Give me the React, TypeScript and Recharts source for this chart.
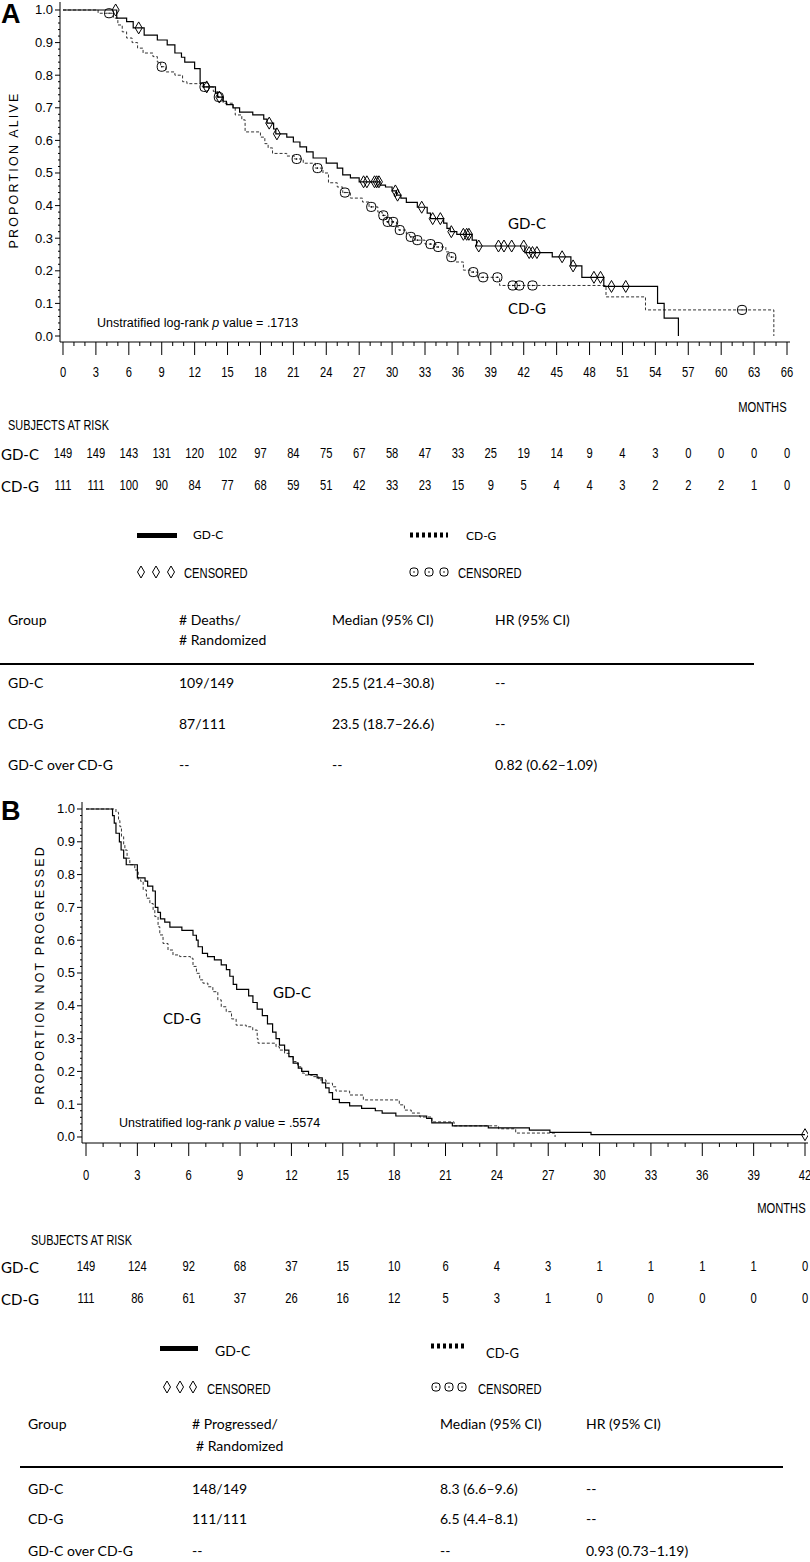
import React from 'react';
import { ComposedChart, Line, Scatter, XAxis, YAxis } from 'recharts';

// ---------- Panel A: overall survival ----------
const monthsA = [0, 3, 6, 9, 12, 15, 18, 21, 24, 27, 30, 33, 36, 39, 42, 45, 48, 51, 54, 57, 60, 63, 66];
const riskA_GDC = [149, 149, 143, 131, 120, 102, 97, 84, 75, 67, 58, 47, 33, 25, 19, 14, 9, 4, 3, 0, 0, 0, 0];
const riskA_CDG = [111, 111, 100, 90, 84, 77, 68, 59, 51, 42, 33, 23, 15, 9, 5, 4, 4, 3, 2, 2, 2, 1, 0];

const osGdc = [
  [0, 1], [4.9, 0.975], [5.8, 0.964], [6.4, 0.945], [7.4, 0.923], [8.6, 0.908], [9.5, 0.893], [10.2, 0.868],
  [10.8, 0.855], [11.1, 0.84], [12.0, 0.82], [12.5, 0.776], [12.8, 0.764], [13.9, 0.745], [14.1, 0.733],
  [14.6, 0.72], [14.9, 0.71], [15.5, 0.7], [16.1, 0.687], [17.3, 0.678], [18.3, 0.665], [18.6, 0.653],
  [19.2, 0.635], [19.4, 0.62], [20.4, 0.61], [21.0, 0.595], [21.6, 0.58], [22.2, 0.565], [22.8, 0.546],
  [24.0, 0.53], [25.0, 0.515], [25.5, 0.494], [26.2, 0.485], [27.0, 0.473], [28.9, 0.463], [29.4, 0.457],
  [30.0, 0.445], [30.4, 0.432], [30.8, 0.423], [31.3, 0.41], [32.3, 0.395], [33.2, 0.377], [33.5, 0.36],
  [34.7, 0.346], [35.0, 0.33], [35.3, 0.32], [35.9, 0.312], [37.3, 0.294], [37.7, 0.276], [42.1, 0.256],
  [44.6, 0.243], [46.3, 0.215], [47.3, 0.18], [49.3, 0.152], [54.2, 0.1], [54.8, 0.055], [56.1, 0],
];
const osCdg = [
  [0, 1], [3.2, 0.99], [4.6, 0.975], [5.0, 0.954], [5.4, 0.933], [5.8, 0.914], [6.3, 0.9], [6.8, 0.883],
  [7.3, 0.868], [8.2, 0.857], [8.6, 0.84], [8.9, 0.826], [9.4, 0.81], [10.2, 0.8], [10.9, 0.78], [11.3, 0.774],
  [12.7, 0.764], [13.7, 0.75], [14.1, 0.733], [14.6, 0.714], [15.5, 0.7], [15.7, 0.678], [16.3, 0.663],
  [16.6, 0.626], [18.0, 0.61], [18.4, 0.59], [18.7, 0.577], [19.1, 0.56], [20.4, 0.552], [21.1, 0.543],
  [21.9, 0.53], [23.0, 0.515], [23.7, 0.5], [24.2, 0.47], [25.0, 0.457], [25.5, 0.44], [26.2, 0.423],
  [27.3, 0.411], [27.9, 0.396], [28.7, 0.38], [29.1, 0.37], [29.5, 0.35], [30.4, 0.335], [30.6, 0.325],
  [31.3, 0.312], [31.6, 0.304], [32.1, 0.294], [33.0, 0.282], [34.0, 0.273], [34.9, 0.258], [35.2, 0.242],
  [35.8, 0.227], [36.5, 0.202], [37.2, 0.196], [37.8, 0.18], [39.8, 0.155], [49.5, 0.12], [53.1, 0.08], [64.8, 0],
];
const osGdcCens = [
  [4.8, 1.0], [6.9, 0.945], [13.1, 0.764], [14.25, 0.733], [18.8, 0.653], [19.5, 0.62], [27.4, 0.473],
  [27.7, 0.473], [28.4, 0.473], [28.6, 0.473], [28.8, 0.473], [30.3, 0.445], [30.5, 0.432], [32.7, 0.395],
  [33.7, 0.36], [34.4, 0.36], [35.4, 0.32], [36.5, 0.312], [36.8, 0.312], [37.0, 0.312], [37.9, 0.276],
  [39.7, 0.276], [40.2, 0.276], [40.9, 0.276], [42.0, 0.276], [42.5, 0.256], [42.8, 0.256], [43.2, 0.256],
  [45.5, 0.243], [46.5, 0.215], [48.4, 0.18], [49.0, 0.18], [50.0, 0.152], [51.3, 0.152],
];
const osCdgCens = [
  [4.2, 0.99], [9.0, 0.826], [12.9, 0.764], [14.2, 0.733], [21.3, 0.543], [23.2, 0.515], [25.7, 0.44],
  [28.1, 0.396], [29.2, 0.37], [29.6, 0.35], [30.1, 0.35], [30.7, 0.325], [31.7, 0.304], [32.3, 0.294],
  [33.5, 0.282], [34.2, 0.273], [35.4, 0.242], [37.4, 0.196], [38.3, 0.18], [39.6, 0.18], [41.0, 0.155],
  [41.6, 0.155], [42.8, 0.155], [61.9, 0.08],
];

// ---------- Panel B: progression-free survival ----------
const monthsB = [0, 3, 6, 9, 12, 15, 18, 21, 24, 27, 30, 33, 36, 39, 42];
const riskB_GDC = [149, 124, 92, 68, 37, 15, 10, 6, 4, 3, 1, 1, 1, 1, 0];
const riskB_CDG = [111, 86, 61, 37, 26, 16, 12, 5, 3, 1, 0, 0, 0, 0, 0];

const pfsGdc = [
  [0, 1], [1.55, 0.98], [1.65, 0.957], [1.75, 0.926], [1.95, 0.9], [2.05, 0.875], [2.2, 0.85], [2.35, 0.83],
  [3.0, 0.79], [3.45, 0.78], [3.6, 0.765], [3.9, 0.75], [4.05, 0.7], [4.2, 0.685], [4.35, 0.665], [4.6, 0.655],
  [4.9, 0.64], [5.6, 0.63], [6.25, 0.615], [6.45, 0.6], [6.55, 0.58], [6.8, 0.56], [7.1, 0.55], [7.5, 0.54],
  [7.9, 0.525], [8.2, 0.51], [8.4, 0.49], [8.6, 0.465], [8.8, 0.45], [9.5, 0.43], [9.75, 0.41], [10.0, 0.39],
  [10.3, 0.37], [10.6, 0.345], [10.9, 0.32], [11.1, 0.3], [11.3, 0.28], [11.6, 0.265], [11.85, 0.245],
  [12.1, 0.225], [12.4, 0.21], [12.6, 0.2], [13.0, 0.19], [13.5, 0.18], [13.8, 0.165], [14.0, 0.15],
  [14.2, 0.135], [14.4, 0.115], [14.8, 0.105], [15.4, 0.095], [16.1, 0.087], [16.9, 0.08], [17.3, 0.073],
  [18.1, 0.064], [19.9, 0.057], [20.2, 0.043], [21.4, 0.034], [23.5, 0.028], [25.9, 0.021], [27.1, 0.014],
  [29.5, 0.007], [42, 0.007],
];
const pfsCdg = [
  [0, 1], [1.75, 0.99], [1.9, 0.965], [1.98, 0.946], [2.07, 0.916], [2.2, 0.89], [2.27, 0.875], [2.4, 0.85],
  [2.56, 0.83], [2.85, 0.814], [3.05, 0.784], [3.2, 0.779], [3.34, 0.753], [3.53, 0.728], [3.73, 0.712],
  [3.92, 0.692], [4.02, 0.672], [4.21, 0.641], [4.31, 0.616], [4.5, 0.59], [4.79, 0.57], [5.08, 0.555],
  [5.47, 0.55], [6.1, 0.545], [6.25, 0.52], [6.45, 0.499], [6.64, 0.479], [6.83, 0.469], [7.12, 0.458],
  [7.41, 0.443], [7.7, 0.418], [7.9, 0.397], [8.19, 0.382], [8.5, 0.36], [8.77, 0.341], [9.36, 0.336],
  [9.74, 0.326], [10.0, 0.3], [10.05, 0.286], [11.1, 0.275], [11.3, 0.265], [11.6, 0.255], [11.88, 0.245],
  [12.1, 0.23], [12.36, 0.214], [12.6, 0.195], [12.75, 0.189], [13.2, 0.184], [13.6, 0.174], [14.02, 0.164],
  [14.4, 0.153], [14.6, 0.14], [15.4, 0.128], [16.2, 0.113], [18.3, 0.098], [18.6, 0.082], [19.0, 0.073],
  [19.5, 0.061], [20.2, 0.046], [21.5, 0.034], [24.1, 0.025], [25.1, 0.012], [27.4, 0],
];
const pfsGdcCens = [[42, 0.007]];

const yLabels = [0, 0.1, 0.2, 0.3, 0.4, 0.5, 0.6, 0.7, 0.8, 0.9, 1.0];

// ---------- helpers ----------
const SAS = "'Liberation Sans', Arial, sans-serif";
const CAL = "Lato, 'Open Sans', sans-serif";
const toPts = (arr: number[][]) => arr.map(([t, s]) => ({ t, s }));
const yTicks = Array.from({ length: 51 }, (_, i) => i / 50);

function makeXTick(labels: number[], top: number[], bot: number[], labelDy: number, rowTop: number, rowBot: number) {
  return (props: any) => {
    const { x, y, payload } = props;
    const v = Math.round(payload.value);
    const idx = labels.indexOf(v);
    const major = idx >= 0;
    const nt = (dy: number, val: number) => (
      <text
        transform={`translate(${x},${y + dy}) scale(0.8,1)`}
        textAnchor="middle"
        dominantBaseline="central"
        fontFamily={SAS}
        fontSize={14}
        fill="#000"
      >
        {val}
      </text>
    );
    return (
      <g>
        <line x1={x} x2={x} y1={y} y2={y + (major ? 13 : 4)} stroke="#000" strokeWidth={1} />
        {major && nt(labelDy, v)}
        {major && nt(rowTop, top[idx])}
        {major && nt(rowBot, bot[idx])}
      </g>
    );
  };
}

const renderYTick = (props: any) => {
  const { x, y, payload } = props;
  const v = payload.value;
  const lab = yLabels.find((l) => Math.abs(l - v) < 1e-6);
  const major = lab !== undefined;
  return (
    <g>
      <line x1={x} x2={x - (major ? 5 : 2)} y1={y} y2={y} stroke="#000" strokeWidth={1} />
      {major && (
        <text x={x - 7} y={y} dominantBaseline="central" textAnchor="end" fontFamily={SAS} fontSize={13} fill="#000">
          {(lab as number).toFixed(1)}
        </text>
      )}
    </g>
  );
};

const diamondShape = (p: any) => (
  <path
    d={`M${p.cx},${p.cy - 6}L${p.cx + 3.5},${p.cy}L${p.cx},${p.cy + 6}L${p.cx - 3.5},${p.cy}Z`}
    fill="none"
    stroke="#000"
    strokeWidth={1}
  />
);
const circleShape = (p: any) => (
  <g>
    <rect x={p.cx - 4.5} y={p.cy - 4.5} width={9} height={9} rx={3.5} fill="none" stroke="#000" strokeWidth={1} />
    <circle cx={p.cx} cy={p.cy} r={0.8} fill="#000" />
  </g>
);

const Lbl = ({ x, y, size = 14, family = CAL, sx = 1, align = 'left', weight = 400, children }: any) => {
  const pos: any = align === 'right' ? { right: 810 - x } : { left: x };
  return (
    <div
      style={{
        position: 'absolute',
        top: y,
        ...pos,
        transform: `translateY(-50%) scaleX(${sx})`,
        transformOrigin: align === 'right' ? 'right center' : 'left center',
        fontFamily: family,
        fontSize: size,
        fontWeight: weight,
        lineHeight: 1,
        whiteSpace: 'nowrap',
        color: '#000',
      }}
    >
      {children}
    </div>
  );
};

const VLabel = ({ x, y, children }: any) => (
  <div
    style={{
      position: 'absolute',
      left: x,
      top: y,
      transform: 'translate(-50%, -50%) rotate(-90deg)',
      fontFamily: SAS,
      fontSize: 12.5,
      letterSpacing: 2.2,
      lineHeight: 1,
      whiteSpace: 'nowrap',
      color: '#000',
    }}
  >
    {children}
  </div>
);

const Box = ({ x, y, w, h }: any) => (
  <div style={{ position: 'absolute', left: x, top: y, width: w, height: h, background: '#000' }} />
);

const Dotted = ({ x, y, w }: any) => (
  <svg style={{ position: 'absolute', left: x, top: y - 3 }} width={w} height={6}>
    <line x1={0} x2={w} y1={3} y2={3} stroke="#000" strokeWidth={5} strokeDasharray="3 3" />
  </svg>
);

const Diamonds = ({ xs, y }: any) => (
  <svg style={{ position: 'absolute', left: 0, top: y - 8 }} width={810} height={16}>
    {xs.map((cx: number) => (
      <path key={cx} d={`M${cx},2L${cx + 3.5},8L${cx},14L${cx - 3.5},8Z`} fill="none" stroke="#000" strokeWidth={1} />
    ))}
  </svg>
);
const Circles = ({ xs, y }: any) => (
  <svg style={{ position: 'absolute', left: 0, top: y - 8 }} width={810} height={16}>
    {xs.map((cx: number) => (
      <g key={cx}>
        <rect x={cx - 4} y={4} width={8} height={8} rx={3} fill="none" stroke="#000" strokeWidth={1} />
        <circle cx={cx} cy={8} r={0.8} fill="#000" />
      </g>
    ))}
  </svg>
);

export default function App() {
  const allA = Array.from({ length: 67 }, (_, i) => i);
  const allB = Array.from({ length: 43 }, (_, i) => i);
  return (
    <div style={{ position: 'absolute', left: 0, top: 0, width: 810, height: 1562, background: '#fff', overflow: 'hidden' }}>
      {/* ---------- Panel A chart ---------- */}
      <div style={{ position: 'absolute', left: 0, top: 0 }}>
        <ComposedChart width={810} height={512} margin={{ top: 2, right: 20, bottom: 0, left: 0 }}>
          <XAxis
            dataKey="t"
            type="number"
            domain={[-0.273, 66.273]}
            allowDataOverflow
            ticks={allA}
            interval={0}
            tickSize={0}
            tickMargin={0}
            tickLine={false}
            axisLine={{ stroke: '#000', strokeWidth: 1 }}
            height={170}
            tick={makeXTick(monthsA, riskA_GDC, riskA_CDG, 31, 112, 144)}
          />
          <YAxis
            dataKey="s"
            type="number"
            domain={[-0.0184, 1.0245]}
            allowDataOverflow
            ticks={yTicks}
            interval={0}
            width={60}
            tickSize={0}
            tickMargin={0}
            tickLine={false}
            axisLine={{ stroke: '#000', strokeWidth: 1 }}
            tick={renderYTick}
          />
          <Line data={toPts(osCdg)} dataKey="s" type="stepAfter" stroke="#333" strokeWidth={1} strokeDasharray="3 2" dot={false} activeDot={false} isAnimationActive={false} />
          <Line data={toPts(osGdc)} dataKey="s" type="stepAfter" stroke="#000" strokeWidth={1.2} dot={false} activeDot={false} isAnimationActive={false} />
          <Scatter data={toPts(osCdgCens)} dataKey="s" shape={circleShape} isAnimationActive={false} />
          <Scatter data={toPts(osGdcCens)} dataKey="s" shape={diamondShape} isAnimationActive={false} />
        </ComposedChart>
      </div>

      {/* ---------- Panel A texts ---------- */}
      <Lbl x={1} y={14} size={27} family={SAS} weight={700}>A</Lbl>
      <VLabel x={14} y={170}>PROPORTION ALIVE</VLabel>
      <Lbl x={97} y={323} size={12.5} family={SAS}>
        Unstratified log-rank <i>p</i> value = .1713
      </Lbl>
      <Lbl x={508} y={223} size={15}>GD-C</Lbl>
      <Lbl x={508} y={308} size={15}>CD-G</Lbl>
      <Lbl x={787} y={407} size={14} family={SAS} sx={0.8} align="right">MONTHS</Lbl>
      <Lbl x={8} y={425} size={14} family={SAS} sx={0.78}>SUBJECTS AT RISK</Lbl>
      <Lbl x={1} y={454} size={15}>GD-C</Lbl>
      <Lbl x={1} y={486} size={15}>CD-G</Lbl>

      <Box x={137} y={533} w={40} h={5} />
      <Lbl x={193} y={535} size={12}>GD-C</Lbl>
      <Dotted x={410} y={535} w={38} />
      <Lbl x={466} y={536} size={12}>CD-G</Lbl>
      <Diamonds xs={[141, 156, 171]} y={572} />
      <Lbl x={184} y={573} size={14} family={SAS} sx={0.8}>CENSORED</Lbl>
      <Circles xs={[414, 429, 444]} y={572} />
      <Lbl x={458} y={573} size={14} family={SAS} sx={0.8}>CENSORED</Lbl>

      <Lbl x={8} y={620} size={14}>Group</Lbl>
      <Lbl x={179} y={620} size={14}># Deaths/</Lbl>
      <Lbl x={179} y={640} size={14}># Randomized</Lbl>
      <Lbl x={332} y={620} size={14}>Median (95% CI)</Lbl>
      <Lbl x={495} y={620} size={14}>HR (95% CI)</Lbl>
      <Box x={0} y={663} w={754} h={2} />
      <Lbl x={8} y={683} size={14}>GD-C</Lbl>
      <Lbl x={179} y={683} size={14}>109/149</Lbl>
      <Lbl x={332} y={683} size={14}>25.5 (21.4–30.8)</Lbl>
      <Lbl x={495} y={683} size={14}>--</Lbl>
      <Lbl x={8} y={724} size={14}>CD-G</Lbl>
      <Lbl x={179} y={724} size={14}>87/111</Lbl>
      <Lbl x={332} y={724} size={14}>23.5 (18.7–26.6)</Lbl>
      <Lbl x={495} y={724} size={14}>--</Lbl>
      <Lbl x={8} y={765} size={14}>GD-C over CD-G</Lbl>
      <Lbl x={179} y={765} size={14}>--</Lbl>
      <Lbl x={332} y={765} size={14}>--</Lbl>
      <Lbl x={495} y={765} size={14}>0.82 (0.62–1.09)</Lbl>

      {/* ---------- Panel B chart ---------- */}
      <div style={{ position: 'absolute', left: 0, top: 790 }}>
        <ComposedChart width={810} height={533} margin={{ top: 12, right: 2, bottom: 0, left: 0 }}>
          <XAxis
            dataKey="t"
            type="number"
            domain={[-0.234, 42.175]}
            allowDataOverflow
            ticks={allB}
            interval={0}
            tickSize={0}
            tickMargin={0}
            tickLine={false}
            axisLine={{ stroke: '#000', strokeWidth: 1 }}
            height={180}
            tick={makeXTick(monthsB, riskB_GDC, riskB_CDG, 33, 124, 156)}
          />
          <YAxis
            dataKey="s"
            type="number"
            domain={[-0.0183, 1.0213]}
            allowDataOverflow
            ticks={yTicks}
            interval={0}
            width={82}
            tickSize={0}
            tickMargin={0}
            tickLine={false}
            axisLine={{ stroke: '#000', strokeWidth: 1 }}
            tick={renderYTick}
          />
          <Line data={toPts(pfsCdg)} dataKey="s" type="stepAfter" stroke="#333" strokeWidth={1} strokeDasharray="3 2" dot={false} activeDot={false} isAnimationActive={false} />
          <Line data={toPts(pfsGdc)} dataKey="s" type="stepAfter" stroke="#000" strokeWidth={1.2} dot={false} activeDot={false} isAnimationActive={false} />
          <Scatter data={toPts(pfsGdcCens)} dataKey="s" shape={diamondShape} isAnimationActive={false} />
        </ComposedChart>
      </div>

      {/* ---------- Panel B texts ---------- */}
      <Lbl x={1} y={811} size={27} family={SAS} weight={700}>B</Lbl>
      <VLabel x={40} y={975}>PROPORTION NOT PROGRESSED</VLabel>
      <Lbl x={119} y={1123} size={12.5} family={SAS}>
        Unstratified log-rank <i>p</i> value = .5574
      </Lbl>
      <Lbl x={273} y={992} size={15}>GD-C</Lbl>
      <Lbl x={163} y={1018} size={15}>CD-G</Lbl>
      <Lbl x={806} y={1208} size={14} family={SAS} sx={0.8} align="right">MONTHS</Lbl>
      <Lbl x={31} y={1240} size={14} family={SAS} sx={0.78}>SUBJECTS AT RISK</Lbl>
      <Lbl x={1} y={1267} size={15}>GD-C</Lbl>
      <Lbl x={1} y={1299} size={15}>CD-G</Lbl>

      <Box x={160} y={1346} w={38} h={5} />
      <Lbl x={215} y={1351} size={14}>GD-C</Lbl>
      <Dotted x={431} y={1346} w={36} />
      <Lbl x={486} y={1353} size={13}>CD-G</Lbl>
      <Diamonds xs={[167, 180, 193]} y={1387} />
      <Lbl x={207} y={1389} size={14} family={SAS} sx={0.8}>CENSORED</Lbl>
      <Circles xs={[436, 449, 462]} y={1387} />
      <Lbl x={478} y={1389} size={14} family={SAS} sx={0.8}>CENSORED</Lbl>

      <Lbl x={28} y={1424} size={14}>Group</Lbl>
      <Lbl x={192} y={1424} size={14}># Progressed/</Lbl>
      <Lbl x={196} y={1446} size={14}># Randomized</Lbl>
      <Lbl x={440} y={1424} size={14}>Median (95% CI)</Lbl>
      <Lbl x={586} y={1424} size={14}>HR (95% CI)</Lbl>
      <Box x={20} y={1466} w={763} h={2} />
      <Lbl x={28} y={1489} size={14}>GD-C</Lbl>
      <Lbl x={192} y={1489} size={14}>148/149</Lbl>
      <Lbl x={440} y={1489} size={14}>8.3 (6.6–9.6)</Lbl>
      <Lbl x={586} y={1489} size={14}>--</Lbl>
      <Lbl x={28} y={1519} size={14}>CD-G</Lbl>
      <Lbl x={192} y={1519} size={14}>111/111</Lbl>
      <Lbl x={440} y={1519} size={14}>6.5 (4.4–8.1)</Lbl>
      <Lbl x={586} y={1519} size={14}>--</Lbl>
      <Lbl x={28} y={1551} size={14}>GD-C over CD-G</Lbl>
      <Lbl x={192} y={1551} size={14}>--</Lbl>
      <Lbl x={440} y={1551} size={14}>--</Lbl>
      <Lbl x={586} y={1551} size={14}>0.93 (0.73–1.19)</Lbl>
    </div>
  );
}
